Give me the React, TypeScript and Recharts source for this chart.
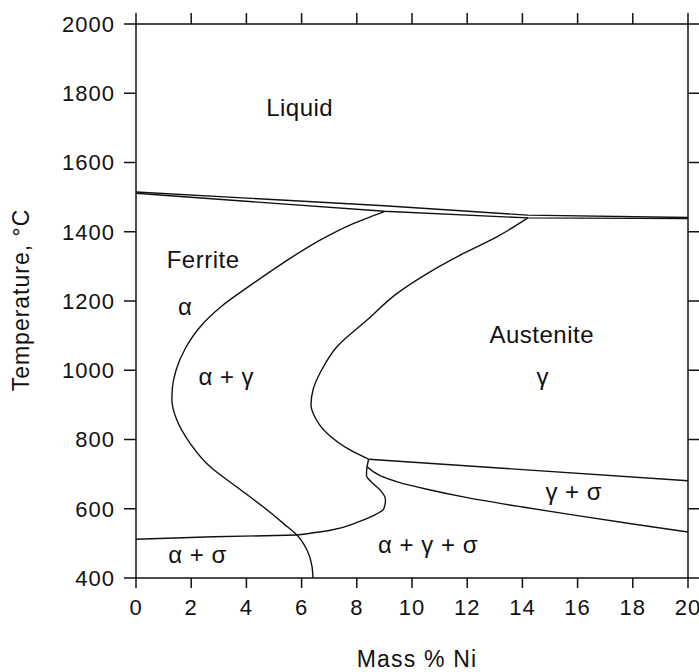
import React from 'react';
import { ComposedChart, Line, Scatter, XAxis, YAxis } from 'recharts';

// Mass % Ni ticks and temperature ticks
const niTicks = [0, 2, 4, 6, 8, 10, 12, 14, 16, 18, 20];
const tempTicks = [400, 600, 800, 1000, 1200, 1400, 1600, 1800, 2000];

// Phase boundaries (ni = mass % Ni, t = temperature °C)
const liquidus = [
  { ni: 0, t: 1515 }, { ni: 9, t: 1475 }, { ni: 14.2, t: 1448 }, { ni: 20, t: 1441 },
];
const solidus = [
  { ni: 0, t: 1511 }, { ni: 9, t: 1459 }, { ni: 14.2, t: 1440 }, { ni: 20, t: 1438 },
];
const ferriteBoundary = [
  { ni: 9.0, t: 1458 }, { ni: 7.77, t: 1420 }, { ni: 6.56, t: 1371 }, { ni: 5.35, t: 1311 },
  { ni: 4.14, t: 1245 }, { ni: 3.1, t: 1185 }, { ni: 2.35, t: 1128 }, { ni: 1.8, t: 1065 },
  { ni: 1.45, t: 1000 }, { ni: 1.32, t: 950 }, { ni: 1.3, t: 914 }, { ni: 1.48, t: 856 },
  { ni: 1.96, t: 789 }, { ni: 2.69, t: 721 }, { ni: 3.65, t: 663 }, { ni: 4.62, t: 605 },
  { ni: 5.35, t: 557 }, { ni: 5.83, t: 524 }, { ni: 6.2, t: 480 }, { ni: 6.38, t: 432 },
  { ni: 6.41, t: 400 },
];
const austeniteBoundary = [
  { ni: 14.2, t: 1440 }, { ni: 13.09, t: 1386 }, { ni: 11.88, t: 1338 }, { ni: 10.67, t: 1285 },
  { ni: 9.46, t: 1222 }, { ni: 8.37, t: 1145 }, { ni: 7.28, t: 1068 }, { ni: 6.72, t: 1000 },
  { ni: 6.42, t: 945 }, { ni: 6.34, t: 900 }, { ni: 6.45, t: 870 }, { ni: 6.92, t: 818 },
  { ni: 7.77, t: 769 }, { ni: 8.43, t: 743 },
];
const sigmaSolvus = [
  { ni: 0, t: 512 }, { ni: 2.8, t: 519 }, { ni: 5.83, t: 524 },
];
const sigmaBulge = [
  { ni: 5.83, t: 524 }, { ni: 6.56, t: 532 }, { ni: 7.04, t: 538 }, { ni: 8.06, t: 562 },
  { ni: 8.6, t: 580 }, { ni: 8.98, t: 600 }, { ni: 9.04, t: 625 }, { ni: 8.86, t: 653 },
  { ni: 8.6, t: 672 }, { ni: 8.35, t: 697 }, { ni: 8.37, t: 721 }, { ni: 8.43, t: 743 },
];
const gammaSigmaUpper = [
  { ni: 8.43, t: 743 }, { ni: 20, t: 681 },
];
const gammaSigmaLower = [
  { ni: 8.37, t: 721 }, { ni: 8.86, t: 695 }, { ni: 9.5, t: 677 }, { ni: 10.5, t: 657 },
  { ni: 12, t: 632 }, { ni: 14, t: 605 }, { ni: 16, t: 580 }, { ni: 18, t: 556 }, { ni: 20, t: 533 },
];

// Region labels
const regionLabels = [
  { ni: 5.93, t: 1735, text: 'Liquid' },
  { ni: 2.43, t: 1295, text: 'Ferrite' },
  { ni: 1.78, t: 1160, text: 'α' },
  { ni: 3.27, t: 957, text: 'α + γ' },
  { ni: 14.7, t: 1079, text: 'Austenite' },
  { ni: 14.74, t: 957, text: 'γ' },
  { ni: 15.86, t: 625, text: 'γ + σ' },
  { ni: 10.58, t: 471, text: 'α + γ + σ' },
  { ni: 2.23, t: 442, text: 'α + σ' },
];

const FONT = '"Liberation Sans", Arial, Helvetica, sans-serif';
const INK = '#111';

const YTick = (props: any) => (
  <text x={props.x} y={props.y} dy="0.355em" textAnchor="end" fontFamily={FONT}
    fontSize={22} letterSpacing={1} fill={INK}>{props.payload.value}</text>
);
const XTick = (props: any) => (
  <text x={props.x} y={props.y} dy="0.71em" textAnchor="middle" fontFamily={FONT}
    fontSize={22} letterSpacing={1} fill={INK}>{props.payload.value}</text>
);
const NoTickLabel = () => <g />;
const LabelShape = (props: any) => (
  <text x={props.cx} y={props.cy} textAnchor="middle" fontFamily={FONT} fontSize={24}
    letterSpacing={0.5} fill={INK}>{props.payload.text}</text>
);

const lineProps = {
  dataKey: 't',
  stroke: INK,
  strokeWidth: 1.4,
  dot: false,
  activeDot: false,
  isAnimationActive: false,
  legendType: 'none' as const,
};

export default function App() {
  return (
    <div style={{ position: 'absolute', left: 0, top: 0, width: 699, height: 672, background: '#fff' }}>
      <ComposedChart width={699} height={672} margin={{ top: 23, right: 10, bottom: 0, left: 0 }}>
        <XAxis xAxisId={0} dataKey="ni" type="number" domain={[0, 20]} ticks={niTicks}
          allowDataOverflow height={94} stroke={INK} strokeWidth={1.5}
          tickSize={10} tickMargin={11} tick={XTick}
          label={{
            content: () => (
              <text x={417} y={667} textAnchor="middle" fontFamily={FONT} fontSize={23}
                letterSpacing={1.2} fill={INK}>Mass % Ni</text>
            ),
          }} />
        <XAxis xAxisId="top" orientation="top" dataKey="ni" type="number" domain={[0, 20]}
          ticks={niTicks} allowDataOverflow height={1} stroke={INK} strokeWidth={1.5}
          tickSize={11} tick={NoTickLabel} />
        <YAxis yAxisId={0} dataKey="t" type="number" domain={[400, 2000]} ticks={tempTicks}
          allowDataOverflow width={136} stroke={INK} strokeWidth={1.5}
          tickSize={12} tickMargin={9} tick={YTick}
          label={{
            content: () => (
              <text x={29} y={300} transform="rotate(-90, 29, 300)" textAnchor="middle"
                fontFamily={FONT} fontSize={23} letterSpacing={1} fill={INK}>Temperature, °C</text>
            ),
          }} />
        <YAxis yAxisId="right" orientation="right" dataKey="t" type="number" domain={[400, 2000]}
          ticks={tempTicks} allowDataOverflow width={1} stroke={INK} strokeWidth={1.5}
          tickSize={11} tick={NoTickLabel} />

        <Line {...lineProps} data={liquidus} type="linear" />
        <Line {...lineProps} data={solidus} type="linear" />
        <Line {...lineProps} data={ferriteBoundary} type="monotoneY" />
        <Line {...lineProps} data={austeniteBoundary} type="monotoneY" />
        <Line {...lineProps} data={sigmaSolvus} type="linear" />
        <Line {...lineProps} data={sigmaBulge} type="monotoneY" />
        <Line {...lineProps} data={gammaSigmaUpper} type="linear" />
        <Line {...lineProps} data={gammaSigmaLower} type="monotoneY" />

        <Scatter data={regionLabels} dataKey="t" shape={LabelShape} isAnimationActive={false}
          legendType="none" />
      </ComposedChart>
    </div>
  );
}
